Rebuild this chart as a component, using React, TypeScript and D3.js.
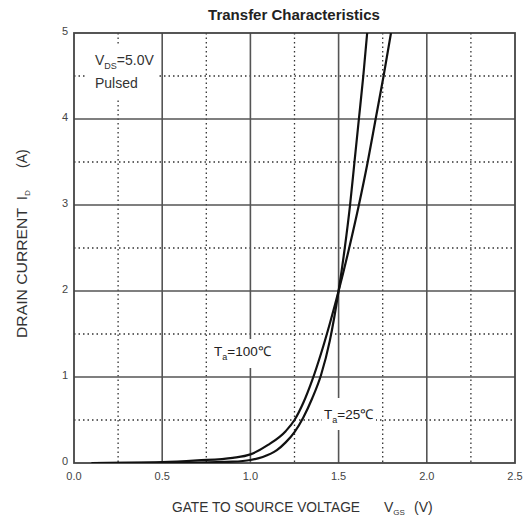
import { scaleLinear, line, curveMonotoneX, range } from 'd3';

const W = 529;
const H = 523;
const LEFT = 74;
const RIGHT = 515;
const TOP = 33;
const BOTTOM = 463;
const FONT = '"Liberation Sans", Arial, sans-serif';

// gate-source voltage (V) and drain current (A)
const vgs25 = [0.1, 0.7, 0.9, 1.0, 1.07, 1.15, 1.2, 1.25, 1.3, 1.35, 1.4, 1.45, 1.5, 1.535, 1.565, 1.59, 1.615, 1.64, 1.662];
const id25 = [0, 0.005, 0.015, 0.035, 0.07, 0.15, 0.24, 0.36, 0.53, 0.75, 1.02, 1.42, 2.0, 2.5, 3.0, 3.5, 4.0, 4.5, 5.0];
const vgs100 = [0.1, 0.5, 0.7, 0.9, 1.0, 1.1, 1.2, 1.25, 1.3, 1.35, 1.4, 1.45, 1.5, 1.56, 1.615, 1.665, 1.71, 1.755, 1.797];
const id100 = [0, 0.01, 0.03, 0.06, 0.1, 0.21, 0.37, 0.5, 0.7, 0.96, 1.27, 1.62, 2.0, 2.5, 3.0, 3.5, 4.0, 4.5, 5.0];

const xTicks = ['0.0', '0.5', '1.0', '1.5', '2.0', '2.5'];
const yTicks = ['0', '1', '2', '3', '4', '5'];

export default function App() {
  const x = scaleLinear().domain([0, 2.5]).range([LEFT, RIGHT]);
  const y = scaleLinear().domain([0, 5]).range([BOTTOM, TOP]);

  const lineGen = line<[number, number]>()
    .x(d => x(d[0]))
    .y(d => y(d[1]))
    .curve(curveMonotoneX);

  const path25 = lineGen(vgs25.map((v, i) => [v, id25[i]] as [number, number])) ?? '';
  const path100 = lineGen(vgs100.map((v, i) => [v, id100[i]] as [number, number])) ?? '';

  const majorX = range(0.5, 2.5, 0.5);
  const minorX = range(0.25, 2.5, 0.5);
  const majorY = range(1, 5, 1);
  const minorY = range(0.5, 5, 1);

  return (
    <svg width={W} height={H} style={{ position: 'absolute', left: 0, top: 0, background: '#fff' }} fontFamily={FONT}>
      <defs>
        <clipPath id="plot">
          <rect x={LEFT} y={TOP} width={RIGHT - LEFT} height={BOTTOM - TOP} />
        </clipPath>
      </defs>

      {/* title */}
      <text x={294} y={20} textAnchor="middle" fontSize={15} fontWeight="bold" fill="#222">
        Transfer Characteristics
      </text>

      {/* minor dotted grid */}
      {minorX.map(v => (
        <line key={'mx' + v} x1={x(v)} x2={x(v)} y1={TOP} y2={BOTTOM} stroke="#333" strokeWidth={1.3} strokeDasharray="1.5 3" />
      ))}
      {minorY.map(v => (
        <line key={'my' + v} x1={LEFT} x2={RIGHT} y1={y(v)} y2={y(v)} stroke="#333" strokeWidth={1.3} strokeDasharray="1.5 3" />
      ))}

      {/* major solid grid */}
      {majorX.map(v => (
        <line key={'Mx' + v} x1={x(v)} x2={x(v)} y1={TOP} y2={BOTTOM} stroke="#555" strokeWidth={1.6} />
      ))}
      {majorY.map(v => (
        <line key={'My' + v} x1={LEFT} x2={RIGHT} y1={y(v)} y2={y(v)} stroke="#555" strokeWidth={1.6} />
      ))}

      <rect x={LEFT} y={TOP} width={RIGHT - LEFT} height={BOTTOM - TOP} fill="none" stroke="#444" strokeWidth={1.8} />

      {/* curves */}
      <g clipPath="url(#plot)" fill="none" stroke="#111" strokeWidth={2.2}>
        <path d={path25} />
        <path d={path100} />
      </g>

      {/* annotations */}
      <rect x={86} y={44} width={73} height={54} fill="#fff" />
      <text x={95} y={65} fontSize={14} fill="#333">
        V<tspan fontSize={9} dy={4}>DS</tspan><tspan dy={-4}>=5.0V</tspan>
      </text>
      <text x={95} y={88} fontSize={14} fill="#333">Pulsed</text>

      <rect x={212} y={339} width={62} height={29} fill="#fff" />
      <text x={214} y={356} fontSize={13.5} fill="#222">
        T<tspan fontSize={9} dy={4}>a</tspan><tspan dy={-4}>=100℃</tspan>
      </text>

      <rect x={322} y={398} width={54} height={32} fill="#fff" />
      <text x={324} y={419} fontSize={13.5} fill="#222">
        T<tspan fontSize={9} dy={4}>a</tspan><tspan dy={-4}>=25℃</tspan>
      </text>

      {/* tick labels */}
      {xTicks.map((t, i) => (
        <text key={'xt' + t} x={x(i * 0.5)} y={480} textAnchor="middle" fontSize={11} fill="#444">{t}</text>
      ))}
      {yTicks.map((t, i) => (
        <text key={'yt' + t} x={68} y={y(i) + 2} textAnchor="end" fontSize={11} fill="#444">{t}</text>
      ))}

      {/* axis titles */}
      <text x={172} y={512} fontSize={14} fill="#333" textLength={188} lengthAdjust="spacingAndGlyphs">
        GATE TO SOURCE VOLTAGE
      </text>
      <text x={384} y={512} fontSize={14} fill="#333">
        V<tspan fontSize={8} dy={3}>GS</tspan>
      </text>
      <text x={414} y={512} fontSize={14} fill="#333">(V)</text>

      <g transform="translate(27,0) rotate(-90)">
        <text x={-338} y={0} fontSize={14} fill="#333" textLength={130} lengthAdjust="spacingAndGlyphs">
          DRAIN CURRENT
        </text>
        <text x={-200} y={0} fontSize={14} fill="#333">
          I<tspan fontSize={8} dy={3}>D</tspan>
        </text>
        <text x={-168} y={0} fontSize={14} fill="#333">(A)</text>
      </g>
    </svg>
  );
}
